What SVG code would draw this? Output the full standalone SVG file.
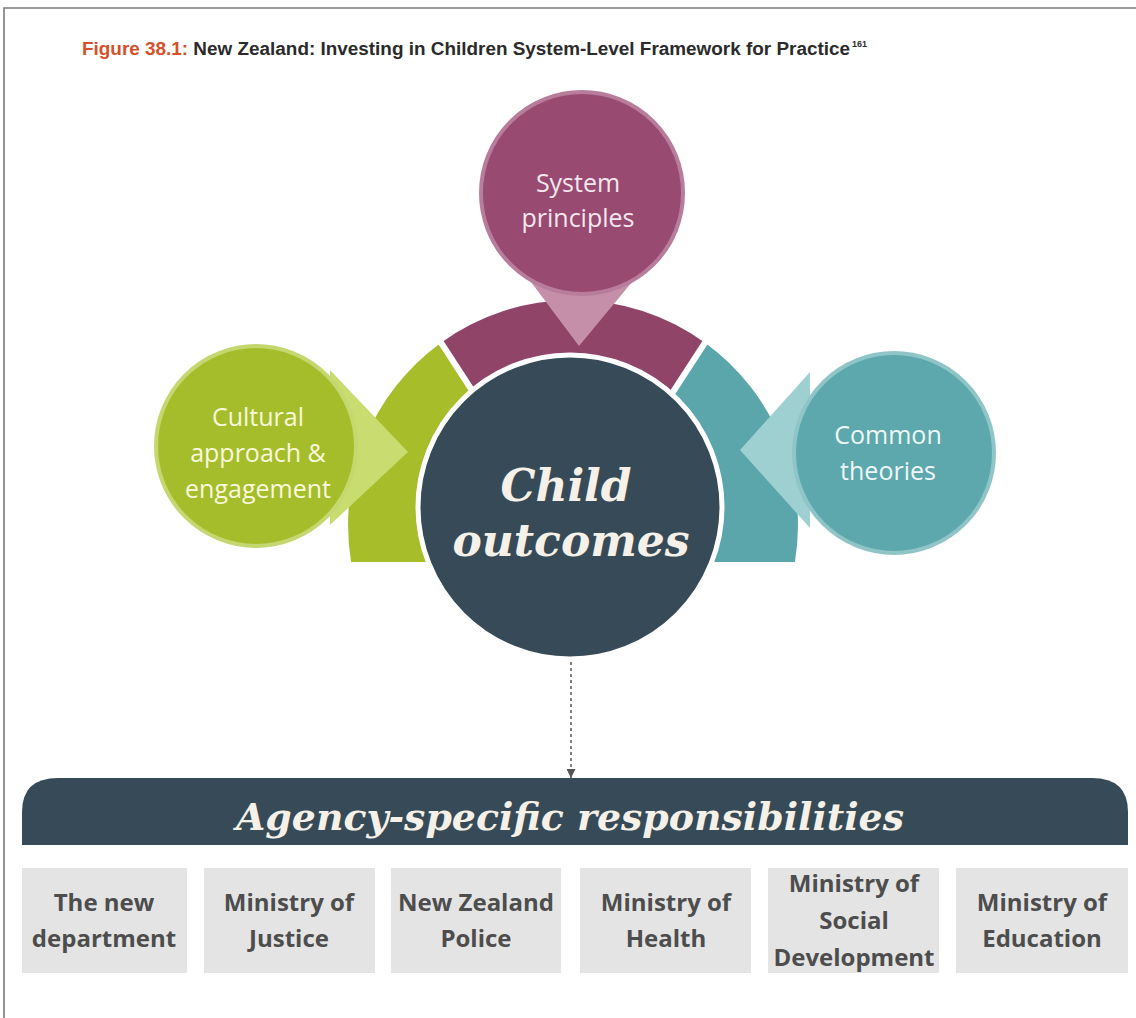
<svg xmlns="http://www.w3.org/2000/svg" width="1136" height="1018" viewBox="0 0 1136 1018">
<defs>
<style>
.sans{font-family:"Open Sans","Noto Sans","Liberation Sans",sans-serif;}
.bub{font-size:25px;text-anchor:middle;}
.serif{font-family:"DejaVu Serif","Liberation Serif",serif;font-weight:bold;font-style:italic;text-anchor:middle;fill:#f6f1e8;}
.box{fill:#e4e4e4;}
.boxt{font-family:"Open Sans","Noto Sans","Liberation Sans",sans-serif;font-weight:bold;font-size:24px;fill:#4d4d4d;text-anchor:middle;}
.gap{stroke:#ffffff;stroke-width:6;}
.title{font-family:"Liberation Sans",Arial,sans-serif;font-weight:bold;}
</style>
<marker id="arr" markerWidth="9" markerHeight="9" refX="9" refY="4.5" orient="auto" markerUnits="userSpaceOnUse" viewBox="0 0 9 9">
<path d="M0,0 L9,4.5 L0,9 Z" fill="#555555"/>
</marker>
</defs>
<rect x="0" y="0" width="1136" height="1018" fill="#ffffff"/>
<path d="M4,1018 L4,8 L1136,8" fill="none" stroke="#7a7a7a" stroke-width="1.6"/>
<text class="title" x="82" y="55" font-size="18" fill="#2b2b2b" textLength="768" lengthAdjust="spacingAndGlyphs"><tspan fill="#d4512a">Figure 38.1:</tspan> New Zealand: Investing in Children System-Level Framework for Practice</text>
<text class="title" x="852" y="47" font-size="9" fill="#2b2b2b">161</text>

<g id="ring">
<path d="M440.7,343 A225,225 0 0 0 351.1,562 L438,562 A140,140 0 0 1 490.7,411.7 Z" fill="#a7bd29"/>
<path d="M440.7,343 A225,225 0 0 1 705.3,343 L655.3,411.7 A140,140 0 0 0 490.7,411.7 Z" fill="#8f4468"/>
<path d="M705.3,343 A225,225 0 0 1 794.9,562 L708,562 A140,140 0 0 0 655.3,411.7 Z" fill="#5ba6aa"/>
<line class="gap" x1="488" y1="415" x2="438" y2="338"/>
<line class="gap" x1="658" y1="415" x2="708" y2="338"/>
</g>

<g id="system-principles">
<polygon points="522,270 642,270 579,346" fill="#c58faa"/>
<circle cx="582" cy="193" r="101" fill="#984a70" stroke="#b77d9b" stroke-width="4"/>
<text class="sans bub" fill="#f4e7ef"><tspan x="578" y="192">System</tspan><tspan x="578" y="227">principles</tspan></text>
</g>

<g id="cultural">
<polygon points="330,370 408,452 330,525" fill="#c9dc70"/>
<circle cx="256" cy="446" r="100" fill="#a6bd2b" stroke="#c4d770" stroke-width="4"/>
<text class="sans bub" fill="#f8f8dd"><tspan x="258" y="426">Cultural</tspan><tspan x="258" y="462">approach &amp;</tspan><tspan x="258" y="498">engagement</tspan></text>
</g>

<g id="common-theories">
<polygon points="810,372 740,450 810,528" fill="#9ecfd1"/>
<circle cx="894" cy="453" r="100" fill="#5ca8ac" stroke="#8fc5c7" stroke-width="4"/>
<text class="sans bub" fill="#eef7f7"><tspan x="888" y="444">Common</tspan><tspan x="888" y="480">theories</tspan></text>
</g>

<g id="child-outcomes">
<circle cx="570" cy="507" r="152" fill="#364b57" stroke="#ffffff" stroke-width="5"/>
<text class="serif" font-size="44"><tspan x="566" y="501">Child</tspan><tspan x="571" y="556">outcomes</tspan></text>
</g>

<g id="connectors">
<line x1="571" y1="662" x2="571" y2="778" stroke="#555555" stroke-width="1.5" stroke-dasharray="3,3" marker-end="url(#arr)"/>
</g>

<g id="agency-banner">
<path d="M22,845 L22,812 Q22,778 58,778 L1092,778 Q1128,778 1128,812 L1128,845 Z" fill="#364b57"/>
<text class="serif" font-size="38" x="570" y="830" textLength="668" lengthAdjust="spacingAndGlyphs">Agency-specific responsibilities</text>
</g>

<g id="box-new-department">
<rect class="box" x="22" y="868" width="165" height="105"/>
<text class="boxt"><tspan x="104" y="911">The new</tspan><tspan x="104" y="947">department</tspan></text>
</g>
<g id="box-justice">
<rect class="box" x="204" y="868" width="171" height="105"/>
<text class="boxt"><tspan x="289" y="911">Ministry of</tspan><tspan x="289" y="947">Justice</tspan></text>
</g>
<g id="box-police">
<rect class="box" x="391" y="868" width="170" height="105"/>
<text class="boxt"><tspan x="476" y="911">New Zealand</tspan><tspan x="476" y="947">Police</tspan></text>
</g>
<g id="box-health">
<rect class="box" x="580" y="868" width="171" height="105"/>
<text class="boxt"><tspan x="666" y="911">Ministry of</tspan><tspan x="666" y="947">Health</tspan></text>
</g>
<g id="box-social">
<rect class="box" x="768" y="868" width="171" height="105"/>
<text class="boxt"><tspan x="854" y="892">Ministry of</tspan><tspan x="854" y="929">Social</tspan><tspan x="854" y="966">Development</tspan></text>
</g>
<g id="box-education">
<rect class="box" x="956" y="868" width="172" height="105"/>
<text class="boxt"><tspan x="1042" y="911">Ministry of</tspan><tspan x="1042" y="947">Education</tspan></text>
</g>
</svg>
